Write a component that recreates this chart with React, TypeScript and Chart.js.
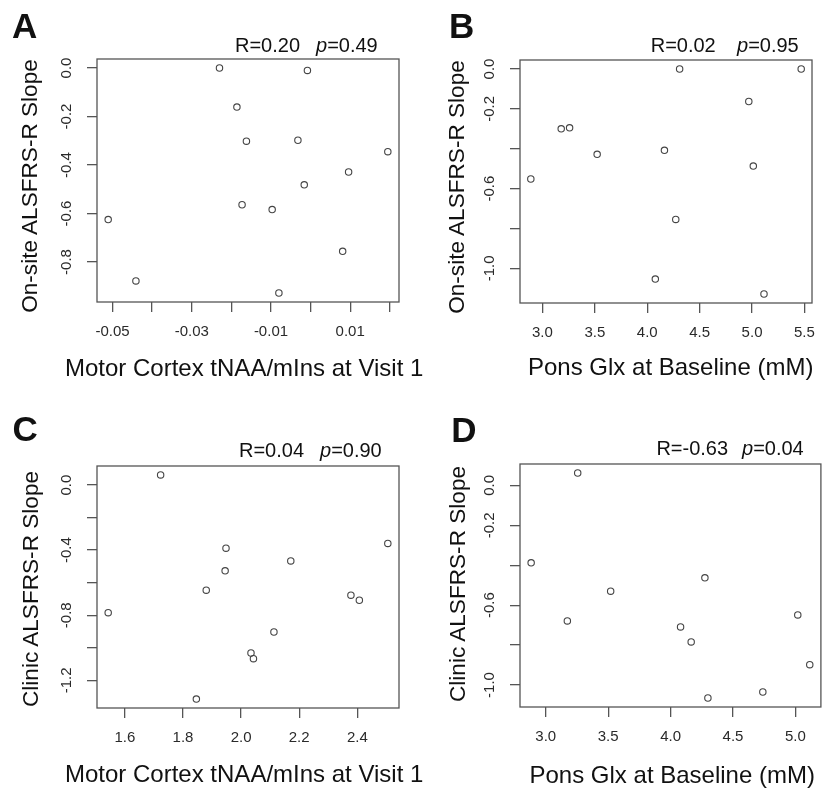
import React, { useEffect, useRef } from 'react';
import { Chart, registerables } from 'chart.js';

Chart.register(...registerables);

const FONT = "'Liberation Sans', Arial, Helvetica, sans-serif";

// ---------- Panel A: On-site slope vs Motor Cortex tNAA/mIns ----------
const aX = [-0.0511, -0.0441, -0.0230, -0.0186, -0.0162, -0.0173, -0.0097, -0.0080, -0.0032, -0.0016, -0.0008, 0.0096, 0.0081, 0.0195];
const aY = [-0.625, -0.878, 0.0, -0.161, -0.302, -0.564, -0.584, -0.928, -0.298, -0.482, -0.010, -0.429, -0.756, -0.345];
const aXTicks = [-0.05, -0.04, -0.03, -0.02, -0.01, 0, 0.01, 0.02];
const aXLabels = ['-0.05', '', '-0.03', '', '-0.01', '', '0.01', ''];
const aYTicks = [0, -0.2, -0.4, -0.6, -0.8];
const aYLabels = ['0.0', '-0.2', '-0.4', '-0.6', '-0.8'];

// ---------- Panel B: On-site slope vs Pons Glx ----------
const bX = [2.889, 3.179, 3.259, 3.522, 4.077, 4.164, 4.272, 4.309, 4.969, 5.012, 5.114, 5.469];
const bY = [-0.552, -0.300, -0.295, -0.428, -1.054, -0.408, -0.755, 0.0, -0.163, -0.487, -1.129, 0.0];
const bXTicks = [3.0, 3.5, 4.0, 4.5, 5.0, 5.5];
const bXLabels = ['3.0', '3.5', '4.0', '4.5', '5.0', '5.5'];
const bYTicks = [0, -0.2, -0.4, -0.6, -0.8, -1.0];
const bYLabels = ['0.0', '-0.2', '', '-0.6', '', '-1.0'];

// ---------- Panel C: Clinic slope vs Motor Cortex tNAA/mIns ----------
const cX = [1.5425, 1.723, 1.846, 1.880, 1.945, 1.948, 2.034, 2.0425, 2.113, 2.171, 2.378, 2.407, 2.505];
const cY = [-0.784, 0.062, -1.315, -0.646, -0.527, -0.388, -1.032, -1.067, -0.903, -0.466, -0.677, -0.708, -0.359];
const cXTicks = [1.6, 1.8, 2.0, 2.2, 2.4];
const cXLabels = ['1.6', '1.8', '2.0', '2.2', '2.4'];
const cYTicks = [0, -0.2, -0.4, -0.6, -0.8, -1.0, -1.2];
const cYLabels = ['0.0', '', '-0.4', '', '-0.8', '', '-1.2'];

// ---------- Panel D: Clinic slope vs Pons Glx ----------
const dX = [2.883, 3.173, 3.256, 3.520, 4.080, 4.165, 4.275, 4.299, 4.739, 5.019, 5.115];
const dY = [-0.388, -0.679, 0.062, -0.530, -0.709, -0.784, -0.463, -1.065, -1.035, -0.649, -0.898];
const dXTicks = [3.0, 3.5, 4.0, 4.5, 5.0];
const dXLabels = ['3.0', '3.5', '4.0', '4.5', '5.0'];
const dYTicks = [0, -0.2, -0.4, -0.6, -0.8, -1.0];
const dYLabels = ['0.0', '-0.2', '', '-0.6', '', '-1.0'];

const panelLetters = ['A', 'B', 'C', 'D'];
const rTexts = ['R=0.20', 'R=0.02', 'R=0.04', 'R=-0.63'];
const pTexts = ['=0.49', '=0.95', '=0.90', '=0.04'];
const xTitles = ['Motor Cortex tNAA/mIns at Visit 1', 'Pons Glx at Baseline (mM)', 'Motor Cortex tNAA/mIns at Visit 1', 'Pons Glx at Baseline (mM)'];
const yTitles = ['On-site ALSFRS-R Slope', 'On-site ALSFRS-R Slope', 'Clinic ALSFRS-R Slope', 'Clinic ALSFRS-R Slope'];

// R-style axis limits: data range extended by 4% on each side
function rRange(arr: number[]): [number, number] {
  const lo = Math.min(...arr);
  const hi = Math.max(...arr);
  const d = (hi - lo) * 0.04;
  return [lo - d, hi + d];
}

const boxPlugin = {
  id: 'rbox',
  afterDraw(chart: any) {
    const { ctx, chartArea: a } = chart;
    ctx.save();
    ctx.strokeStyle = '#555';
    ctx.lineWidth = 1.3;
    ctx.strokeRect(a.left, a.top, a.right - a.left, a.bottom - a.top);
    ctx.restore();
  },
};

type PanelProps = {
  xs: number[]; ys: number[];
  xTicks: number[]; xLabels: string[];
  yTicks: number[]; yLabels: string[];
  left: number; top: number; w: number; h: number;
  area: { l: number; t: number; r: number; b: number };
};

function Panel(p: PanelProps) {
  const ref = useRef<HTMLCanvasElement | null>(null);
  useEffect(() => {
    if (!ref.current) return;
    const [xmin, xmax] = rRange(p.xs);
    const [ymin, ymax] = rRange(p.ys);
    const tickFont = { family: FONT, size: 15 };
    const grid = { display: true, drawOnChartArea: false, drawTicks: true, tickLength: 10, color: '#555', lineWidth: 1.3 };
    const chart = new Chart(ref.current, {
      type: 'scatter',
      data: {
        datasets: [{
          data: p.xs.map((x, i) => ({ x, y: p.ys[i] })),
          pointRadius: 3.2,
          pointBorderWidth: 1.1,
          pointBorderColor: '#444',
          pointBackgroundColor: 'rgba(0,0,0,0)',
          showLine: false,
        }],
      },
      options: {
        animation: false,
        responsive: false,
        events: [],
        layout: { padding: { left: 0, top: p.area.t, right: p.w - p.area.r, bottom: 0 } },
        plugins: { legend: { display: false }, tooltip: { enabled: false }, title: { display: false } },
        scales: {
          x: {
            type: 'linear', position: 'bottom', min: xmin, max: xmax,
            afterBuildTicks: (s: any) => { s.ticks = p.xTicks.map((v) => ({ value: v })); },
            afterFit: (s: any) => { s.height = p.h - p.area.b; },
            ticks: {
              autoSkip: false, minRotation: 0, maxRotation: 0, padding: 11, color: '#2a2a2a', font: tickFont,
              callback: (_v: any, i: number) => p.xLabels[i],
            },
            grid, border: { display: false },
          },
          y: {
            type: 'linear', position: 'left', min: ymin, max: ymax,
            afterBuildTicks: (s: any) => { s.ticks = p.yTicks.map((v) => ({ value: v })); },
            afterFit: (s: any) => { s.width = p.area.l; },
            ticks: {
              autoSkip: false, minRotation: 90, maxRotation: 90, crossAlign: 'center', padding: 7.5, color: '#2a2a2a', font: tickFont,
              callback: (_v: any, i: number) => p.yLabels[i],
            },
            grid, border: { display: false },
          },
        },
      } as any,
      plugins: [boxPlugin],
    });
    return () => chart.destroy();
  }, []);
  return (
    <canvas ref={ref} width={p.w} height={p.h}
      style={{ position: 'absolute', left: p.left, top: p.top, width: p.w, height: p.h }} />
  );
}

const base: React.CSSProperties = { position: 'absolute', whiteSpace: 'nowrap', fontFamily: FONT, color: '#111', margin: 0, padding: 0 };

function HText(props: { x: number; baseline: number; size: number; text: string; bold?: boolean; italic?: boolean }) {
  const { x, baseline, size, text, bold, italic } = props;
  return (
    <div style={{ ...base, left: x, top: baseline - 0.8465 * size, fontSize: size, lineHeight: `${size}px`, fontWeight: bold ? 'bold' : 'normal', fontStyle: italic ? 'italic' : 'normal' }}>{text}</div>
  );
}

function VText(props: { baselineX: number; cy: number; size: number; text: string }) {
  const { baselineX, cy, size, text } = props;
  return (
    <div style={{ ...base, left: baselineX - 0.3465 * size, top: cy, fontSize: size, lineHeight: `${size}px`, transform: 'translate(-50%,-50%) rotate(-90deg)' }}>{text}</div>
  );
}

export default function App() {
  const letterPos = [[12, 37.5], [449, 37.5], [12.4, 440.5], [451.3, 441.7]];
  const rPos = [[235, 52.3], [650.7, 52.3], [239, 456.7], [656.4, 455]];
  const pPos = [[316, 52.3], [737, 52.3], [320, 456.7], [742, 455]];
  const xtPos = [[65, 376], [528, 375], [65, 782], [529.5, 783]];
  const ytPos = [[38.3, 185.8], [464.5, 186.7], [39, 589], [466, 584]];
  return (
    <div style={{ position: 'absolute', left: 0, top: 0, width: 826, height: 791, background: '#fff', overflow: 'hidden' }}>
      <Panel xs={aX} ys={aY} xTicks={aXTicks} xLabels={aXLabels} yTicks={aYTicks} yLabels={aYLabels}
        left={0} top={0} w={413} h={395} area={{ l: 97, t: 59, r: 399, b: 302 }} />
      <Panel xs={bX} ys={bY} xTicks={bXTicks} xLabels={bXLabels} yTicks={bYTicks} yLabels={bYLabels}
        left={413} top={0} w={413} h={395} area={{ l: 107, t: 60, r: 409, b: 303 }} />
      <Panel xs={cX} ys={cY} xTicks={cXTicks} xLabels={cXLabels} yTicks={cYTicks} yLabels={cYLabels}
        left={0} top={395} w={413} h={396} area={{ l: 97, t: 71, r: 399, b: 313 }} />
      <Panel xs={dX} ys={dY} xTicks={dXTicks} xLabels={dXLabels} yTicks={dYTicks} yLabels={dYLabels}
        left={413} top={395} w={413} h={396} area={{ l: 107, t: 69, r: 409, b: 312 }} />
      {panelLetters.map((t, i) => (
        <HText key={'l' + i} x={letterPos[i][0]} baseline={letterPos[i][1]} size={35} text={t} bold />
      ))}
      {rTexts.map((t, i) => (
        <HText key={'r' + i} x={rPos[i][0]} baseline={rPos[i][1]} size={20} text={t} />
      ))}
      {pTexts.map((t, i) => (
        <div key={'p' + i} style={{ ...base, left: pPos[i][0], top: pPos[i][1] - 0.8465 * 20, fontSize: 20, lineHeight: '20px' }}>
          <i>p</i>{t}
        </div>
      ))}
      {xTitles.map((t, i) => (
        <HText key={'x' + i} x={xtPos[i][0]} baseline={xtPos[i][1]} size={24} text={t} />
      ))}
      {yTitles.map((t, i) => (
        <VText key={'y' + i} baselineX={ytPos[i][0]} cy={ytPos[i][1]} size={22.6} text={t} />
      ))}
    </div>
  );
}
